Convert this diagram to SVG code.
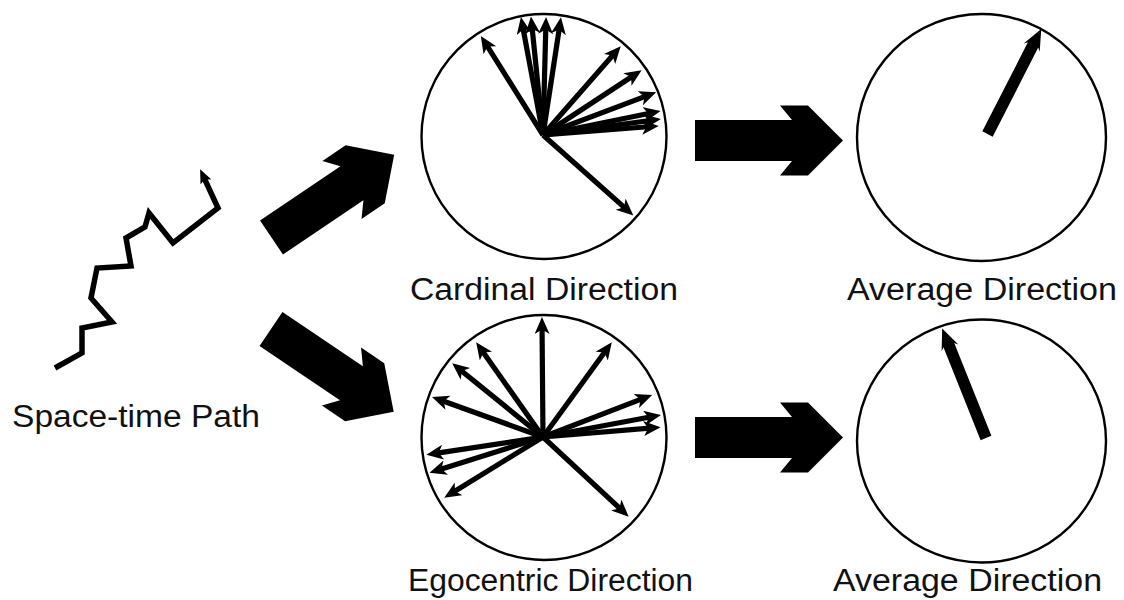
<svg xmlns="http://www.w3.org/2000/svg" width="1124" height="600" viewBox="0 0 1124 600">
<style>
.ring{fill:none;stroke:#000;stroke-width:2.4}
.vec{stroke:#000;stroke-width:5.2;fill:none;marker-end:url(#head)}
.big{fill:#000}
.lbl{font-family:"Liberation Sans",Arial,sans-serif;font-size:31px;fill:#111}
.path{fill:none;stroke:#000;stroke-width:5.5;stroke-linejoin:miter;marker-end:url(#headS)}
</style>
<defs>
<marker id="head" markerUnits="userSpaceOnUse" markerWidth="18" markerHeight="16" refX="6" refY="7.5" orient="auto">
<path d="M0,0 L17,7.5 L0,15 L4.5,7.5 z" fill="#000"/>
</marker>
<marker id="headS" markerUnits="userSpaceOnUse" markerWidth="15" markerHeight="13" refX="4" refY="6" orient="auto">
<path d="M0,0 L14,6 L0,12 L3,6 z" fill="#000"/>
</marker>
<polygon id="bigArrow" points="0,-20.5 97,-20.5 85,-35 113,-35 148,0 113,35 85,35 97,20.5 0,20.5"/>
<path id="avg" d="M0,-5.8 L100,-5.8 L97,-9 L118,0 L97,9 L100,5.8 L0,5.8 z"/>
</defs>
<rect width="1124" height="600" fill="#fff"/>

<g id="space-time-path">
<polyline class="path" points="55,368 82,353 82,328 112,322 91,298 97,268 131,266 126,238 145,227 149,213 173,243 218,208 204.3,178.3"/>
<text class="lbl" x="12" y="427" textLength="248" lengthAdjust="spacingAndGlyphs">Space-time Path</text>
</g>

<g id="cardinal">
<circle class="ring" cx="544" cy="136.5" r="122.5"/>
<g transform="translate(543,135)">
<line class="vec" x1="0" y1="0" x2="106" y2="0" transform="rotate(-122.1)"/>
<line class="vec" x1="0" y1="0" x2="109" y2="0" transform="rotate(-100.6)"/>
<line class="vec" x1="0" y1="0" x2="108" y2="0" transform="rotate(-95.8)"/>
<line class="vec" x1="0" y1="0" x2="107" y2="0" transform="rotate(-88.5)"/>
<line class="vec" x1="0" y1="0" x2="108" y2="0" transform="rotate(-81.3)"/>
<line class="vec" x1="0" y1="0" x2="107" y2="0" transform="rotate(-48.8)"/>
<line class="vec" x1="0" y1="0" x2="107" y2="0" transform="rotate(-33.3)"/>
<line class="vec" x1="0" y1="0" x2="110" y2="0" transform="rotate(-20.7)"/>
<line class="vec" x1="0" y1="0" x2="109" y2="0" transform="rotate(-11.5)"/>
<line class="vec" x1="0" y1="0" x2="108" y2="0" transform="rotate(-7.7)"/>
<line class="vec" x1="0" y1="0" x2="105" y2="0" transform="rotate(-4.5)"/>
<line class="vec" x1="0" y1="0" x2="110" y2="0" transform="rotate(41.7)"/>
</g>
<text class="lbl" x="410" y="300" textLength="268" lengthAdjust="spacingAndGlyphs">Cardinal Direction</text>
</g>

<g id="egocentric">
<circle class="ring" cx="544" cy="437.5" r="122.5"/>
<g transform="translate(543,437)">
<line class="vec" x1="0" y1="0" x2="109" y2="0" transform="rotate(-90.5)"/>
<line class="vec" x1="0" y1="0" x2="106" y2="0" transform="rotate(-54)"/>
<line class="vec" x1="0" y1="0" x2="105" y2="0" transform="rotate(-125.2)"/>
<line class="vec" x1="0" y1="0" x2="106" y2="0" transform="rotate(-140.9)"/>
<line class="vec" x1="0" y1="0" x2="107" y2="0" transform="rotate(-160.2)"/>
<line class="vec" x1="0" y1="0" x2="106" y2="0" transform="rotate(-21.1)"/>
<line class="vec" x1="0" y1="0" x2="109" y2="0" transform="rotate(-10.6)"/>
<line class="vec" x1="0" y1="0" x2="107" y2="0" transform="rotate(-4.8)"/>
<line class="vec" x1="0" y1="0" x2="107" y2="0" transform="rotate(171.3)"/>
<line class="vec" x1="0" y1="0" x2="108" y2="0" transform="rotate(162.5)"/>
<line class="vec" x1="0" y1="0" x2="105" y2="0" transform="rotate(148.4)"/>
<line class="vec" x1="0" y1="0" x2="106" y2="0" transform="rotate(42.9)"/>
</g>
<text class="lbl" x="408" y="591" textLength="285" lengthAdjust="spacingAndGlyphs">Egocentric Direction</text>
</g>

<g id="average-top">
<ellipse class="ring" cx="981.5" cy="137.5" rx="124.5" ry="123.5"/>
<use href="#avg" transform="translate(987.5,134) rotate(-62.9)"/>
<text class="lbl" x="847" y="300" textLength="270" lengthAdjust="spacingAndGlyphs">Average Direction</text>
</g>

<g id="average-bottom">
<ellipse class="ring" cx="981.5" cy="441" rx="124.5" ry="121.5"/>
<use href="#avg" transform="translate(986,438) rotate(-111.8)"/>
<text class="lbl" x="833" y="591" textLength="269" lengthAdjust="spacingAndGlyphs">Average Direction</text>
</g>

<g id="connectors">
<use class="big" href="#bigArrow" transform="translate(271.5,237.5) rotate(-34)"/>
<use class="big" href="#bigArrow" transform="translate(271,329) rotate(34)"/>
<use class="big" href="#bigArrow" transform="translate(695,140.5)"/>
<use class="big" href="#bigArrow" transform="translate(695,437.5)"/>
</g>
</svg>
